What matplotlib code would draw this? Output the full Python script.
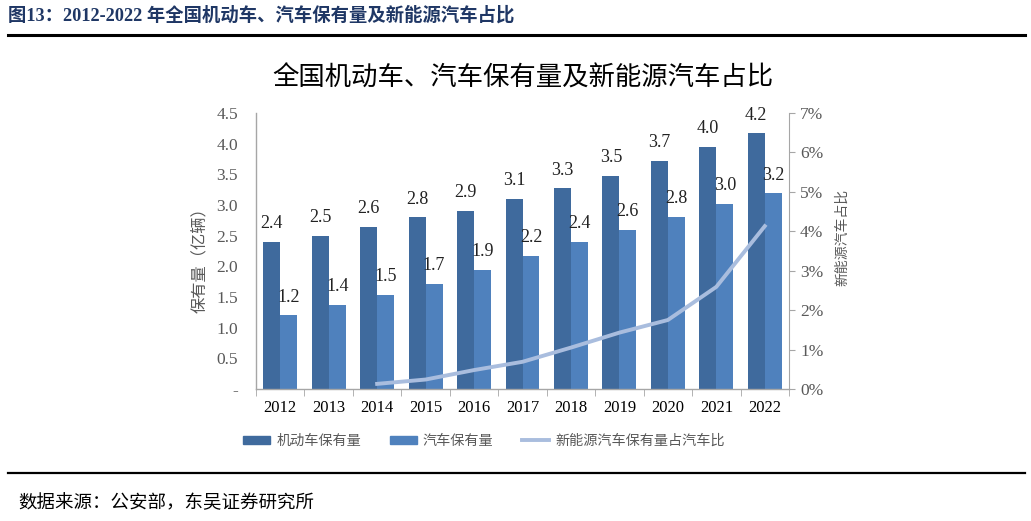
import numpy as np
import matplotlib.pyplot as plt
from matplotlib.ticker import FuncFormatter, MultipleLocator
from matplotlib.lines import Line2D
from matplotlib.patches import Patch

# 数据
years = ['2012', '2013', '2014', '2015', '2016', '2017', '2018', '2019', '2020', '2021', '2022']
motor = [2.40, 2.50, 2.64, 2.80, 2.90, 3.10, 3.27, 3.48, 3.72, 3.95, 4.17]
motor_lbl = ['2.4', '2.5', '2.6', '2.8', '2.9', '3.1', '3.3', '3.5', '3.7', '4.0', '4.2']
cars = [1.20, 1.37, 1.54, 1.72, 1.94, 2.17, 2.40, 2.60, 2.81, 3.02, 3.19]
cars_lbl = ['1.2', '1.4', '1.5', '1.7', '1.9', '2.2', '2.4', '2.6', '2.8', '3.0', '3.2']
nev_years = ['2014', '2015', '2016', '2017', '2018', '2019', '2020', '2021', '2022']
nev_share = [0.13, 0.24, 0.48, 0.69, 1.05, 1.43, 1.75, 2.59, 4.13]

serif_cjk = ['Liberation Serif', 'Noto Sans CJK SC']
plt.rcParams['font.family'] = serif_cjk

c_dark = '#3F6A9D'
c_light = '#4F81BD'
c_line = '#A9BDDE'
grey = '#595959'

fig = plt.figure(figsize=(10.31, 5.21), dpi=100)

# 页眉与页脚
fig.text(8 / 1031, 1 - 15 / 521, '图13：2012-2022 年全国机动车、汽车保有量及新能源汽车占比',
         fontsize=13.2, fontweight='bold', color='#1F3765', va='center', ha='left')
fig.add_artist(Line2D([8 / 1031, 1025 / 1031], [1 - 35 / 521] * 2, color='black', lw=2.2))
fig.add_artist(Line2D([8 / 1031, 1025 / 1031], [1 - 473 / 521] * 2, color='black', lw=1.6))
fig.text(18 / 1031, 1 - 503 / 521, '数据来源：公安部，东吴证券研究所',
         fontsize=13.3, color='black', va='center', ha='left')

ax = fig.add_axes([256 / 1031, 1 - 389 / 521, 533 / 1031, 276 / 521])
x = np.arange(len(years))
w = 0.35
ax.bar(x - w / 2, motor, w, color=c_dark, zorder=2)
ax.bar(x + w / 2, cars, w, color=c_light, zorder=2)

for xi, v, t in zip(x, motor, motor_lbl):
    ax.annotate(t, (xi - w / 2, v), xytext=(0, 7), textcoords='offset points',
                ha='center', va='bottom', fontsize=13, color='#222222')
for xi, v, t in zip(x, cars, cars_lbl):
    ax.annotate(t, (xi + w / 2, v), xytext=(0, 7), textcoords='offset points',
                ha='center', va='bottom', fontsize=13, color='#222222')

ax.set_xlim(-0.5, len(years) - 0.5)
ax.set_ylim(0, 4.5)
ax.yaxis.set_major_locator(MultipleLocator(0.5))
ax.yaxis.set_major_formatter(FuncFormatter(lambda v, p: '-' if abs(v) < 1e-9 else f'{v:.1f}'))
ax.set_xticks(x)
ax.set_xticklabels(years)
ax.set_xticks(np.arange(-0.5, len(years), 1), minor=True)
ax.tick_params(axis='x', which='major', length=0, pad=8, labelsize=12, colors='black')
ax.tick_params(axis='x', which='minor', length=5, color='#A6A6A6', direction='out')
ax.tick_params(axis='y', length=0, pad=13, labelsize=12.5, colors=grey)
for s in ['top', 'right']:
    ax.spines[s].set_visible(False)
for s in ['left', 'bottom']:
    ax.spines[s].set_color('#A6A6A6')
    ax.spines[s].set_linewidth(1.0)
ax.set_ylabel('保有量（亿辆）', fontsize=11.7, color=grey)
ax.yaxis.set_label_coords(-48 / 533, 0.48)

ax2 = ax.twinx()
nx = [years.index(y) for y in nev_years]
ax2.plot(nx, nev_share, color=c_line, lw=2.8, zorder=3)
ax2.set_ylim(0, 7)
ax2.yaxis.set_major_locator(MultipleLocator(1))
ax2.yaxis.set_major_formatter(FuncFormatter(lambda v, p: f'{v:.0f}%'))
ax2.tick_params(axis='y', length=4, color='#A6A6A6', labelsize=12.5, colors=grey, pad=4)
for s in ['top', 'left', 'bottom']:
    ax2.spines[s].set_visible(False)
ax2.spines['right'].set_color('#A6A6A6')
ax2.set_ylabel('新能源汽车占比', fontsize=10, color=grey, rotation=90)
ax2.yaxis.set_label_coords(1 + 47 / 533, 0.55)

ax.set_title('全国机动车、汽车保有量及新能源汽车占比', fontsize=19, color='black', pad=20)

handles = [Patch(color=c_dark), Patch(color=c_light), Line2D([0], [0], color=c_line, lw=2.8)]
labels = ['机动车保有量', '汽车保有量', '新能源汽车保有量占汽车比']
fig.legend(handles, labels, loc='center', bbox_to_anchor=(484 / 1031, 1 - 441 / 521), ncol=3,
           frameon=False, fontsize=10.2, handlelength=1.9, handleheight=0.5,
           columnspacing=2.0, labelcolor=grey, handletextpad=0.45)

fig.savefig('out.png', dpi=100)
